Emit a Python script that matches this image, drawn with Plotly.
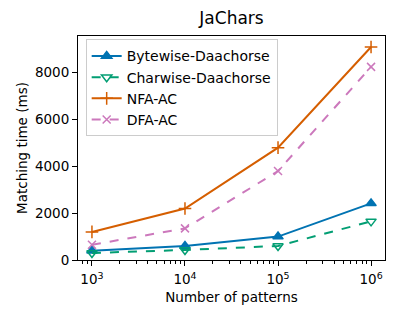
import plotly.graph_objects as go

patterns = [1e3, 1e4, 1e5, 1e6]
bytewise = [400, 600, 1000, 2420]
charwise = [300, 430, 600, 1650]
nfa_ac = [1200, 2200, 4800, 9100]
dfa_ac = [650, 1350, 3800, 8250]
x_tick_vals = [1e3, 1e4, 1e5, 1e6]
x_tick_text = ["10<sup>3</sup>", "10<sup>4</sup>", "10<sup>5</sup>", "10<sup>6</sup>"]
y_tick_vals = [0, 2000, 4000, 6000, 8000]

FONT = "DejaVu Sans"
W, H = 392, 312  # page body has an 8px margin
fig = go.Figure()
series = [
    ("Bytewise-Daachorse", bytewise, "#0173B2", "solid", "triangle-up", 9),
    ("Charwise-Daachorse", charwise, "#029E73", "dash", "triangle-down-open", 9),
    ("NFA-AC", nfa_ac, "#D55E00", "solid", "cross-thin-open", 9),
    ("DFA-AC", dfa_ac, "#CC78BC", "dash", "x-thin-open", 8),
]
for name, vals, color, dash, sym, ms in series:
    fig.add_trace(go.Scatter(
        x=patterns, y=vals, name=name, mode="lines+markers",
        line=dict(color=color, width=2, dash=dash),
        marker=dict(symbol=sym, size=ms, color=color, line=dict(color=color, width=1.5)),
    ))

fig.update_layout(
    width=W, height=H,
    margin=dict(l=70, r=15, t=28, b=60, autoexpand=False),
    paper_bgcolor="white", plot_bgcolor="white",
    font=dict(family=FONT, size=13.5, color="black"),
    title=dict(text="JaChars", x=0.5, xref="paper", y=1 - 10 / H, yanchor="middle",
               font=dict(size=17, family=FONT, color="black")),
    showlegend=True,
    legend=dict(x=0.025, y=0.985, xanchor="left", yanchor="top",
                bgcolor="rgba(255,255,255,0.8)", bordercolor="#cccccc", borderwidth=1,
                font=dict(size=14, family=FONT), tracegroupgap=0),
)
fig.update_xaxes(
    type="log", range=[2.85, 6.15], automargin=False,
    tickvals=x_tick_vals, ticktext=x_tick_text,
    ticks="outside", ticklen=5, tickcolor="black", ticklabelstandoff=2,
    showline=True, linecolor="black", linewidth=1, mirror=True,
    showgrid=False, zeroline=False,
    minor=dict(ticks="outside", ticklen=2.5, tickcolor="black", dtick="D1", showgrid=False),
    title=dict(text="Number of patterns", font=dict(size=13.5, family=FONT), standoff=6),
    tickfont=dict(size=13.5, family=FONT),
)
fig.update_yaxes(
    range=[0, 9570], tickvals=y_tick_vals, automargin=False,
    ticks="outside", ticklen=5, tickcolor="black",
    showline=True, linecolor="black", linewidth=1, mirror=True,
    showgrid=False, zeroline=False,
    title=dict(text="Matching time (ms)", font=dict(size=13.5, family=FONT), standoff=4),
    tickfont=dict(size=13.5, family=FONT),
)
fig.write_html("out.html")
